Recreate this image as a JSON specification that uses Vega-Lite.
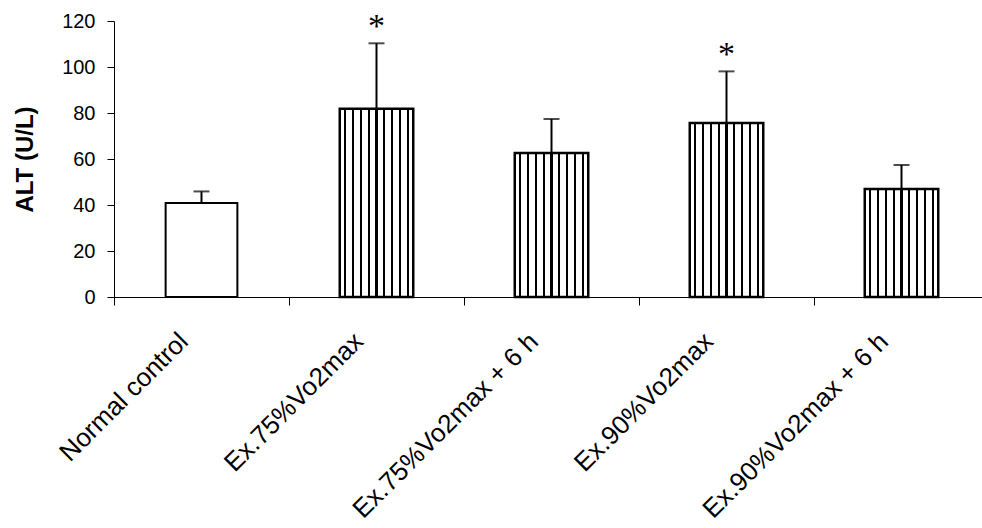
{
  "$schema": "https://vega.github.io/schema/vega-lite/v6.json",
  "width": 868,
  "height": 276,
  "autosize": {"type": "none"},
  "padding": {"left": 114, "top": 21, "right": 0, "bottom": 231},
  "background": "white",
  "config": {
    "view": {"stroke": null},
    "font": "Liberation Sans",
    "axis": {
      "domainColor": "black",
      "domainWidth": 1,
      "tickColor": "black",
      "labelColor": "black",
      "titleColor": "black",
      "labelFont": "Liberation Sans",
      "titleFont": "Liberation Sans",
      "grid": false
    }
  },
  "data": {
    "values": [
      {"group": "Normal control", "value": 40.9, "errhi": 45.9, "sig": ""},
      {"group": "Ex.75%Vo2max", "value": 81.9, "errhi": 110.3, "sig": "*"},
      {"group": "Ex.75%Vo2max + 6 h", "value": 62.6, "errhi": 77.4, "sig": ""},
      {"group": "Ex.90%Vo2max", "value": 75.7, "errhi": 98.1, "sig": "*"},
      {"group": "Ex.90%Vo2max + 6 h", "value": 47.0, "errhi": 57.4, "sig": ""}
    ]
  },
  "encoding": {
    "x": {
      "field": "group",
      "type": "nominal",
      "sort": null,
      "scale": {"paddingInner": 0, "paddingOuter": 0, "range": [0, 875]},
      "axis": {
        "title": null,
        "tickBand": "extent",
        "tickSize": 8,
        "labelAngle": -45,
        "labelAlign": "right",
        "labelBaseline": "middle",
        "labelFontSize": 26,
        "labelPadding": 32,
        "labelOffset": -18,
        "labelLimit": 400
      }
    },
    "y": {
      "type": "quantitative",
      "scale": {"domain": [0, 120], "nice": false, "zero": true},
      "axis": {
        "title": "ALT (U/L)",
        "values": [0, 20, 40, 60, 80, 100, 120],
        "tickSize": 7,
        "labelPadding": 12,
        "labelFontSize": 20,
        "titleFontSize": 24,
        "titleFontWeight": "bold",
        "titleX": -89,
        "titleY": 138,
        "titleAlign": "center",
        "titleBaseline": "middle",
        "titleAngle": -90
      }
    }
  },
  "layer": [
    {
      "transform": [{"filter": "datum.group === 'Normal control'"}],
      "mark": {"type": "bar", "width": {"band": 0.41}, "fill": "white", "stroke": "black", "strokeWidth": 2},
      "encoding": {"y": {"field": "value"}}
    },
    {
      "transform": [{"filter": "datum.group !== 'Normal control'"}],
      "mark": {
        "type": "bar",
        "width": {"band": 0.42},
        "stroke": "black",
        "strokeWidth": 2.5,
        "fill": {
          "gradient": "linear",
          "x1": 0, "x2": 1, "y1": 0, "y2": 0,
          "stops": [
            {"offset": 0, "color": "white"},
            {"offset": 0.054, "color": "white"}, {"offset": 0.054, "color": "black"}, {"offset": 0.082, "color": "black"}, {"offset": 0.082, "color": "white"},
            {"offset": 0.162, "color": "white"}, {"offset": 0.162, "color": "black"}, {"offset": 0.190, "color": "black"}, {"offset": 0.190, "color": "white"},
            {"offset": 0.270, "color": "white"}, {"offset": 0.270, "color": "black"}, {"offset": 0.298, "color": "black"}, {"offset": 0.298, "color": "white"},
            {"offset": 0.378, "color": "white"}, {"offset": 0.378, "color": "black"}, {"offset": 0.406, "color": "black"}, {"offset": 0.406, "color": "white"},
            {"offset": 0.486, "color": "white"}, {"offset": 0.486, "color": "black"}, {"offset": 0.514, "color": "black"}, {"offset": 0.514, "color": "white"},
            {"offset": 0.594, "color": "white"}, {"offset": 0.594, "color": "black"}, {"offset": 0.622, "color": "black"}, {"offset": 0.622, "color": "white"},
            {"offset": 0.702, "color": "white"}, {"offset": 0.702, "color": "black"}, {"offset": 0.730, "color": "black"}, {"offset": 0.730, "color": "white"},
            {"offset": 0.810, "color": "white"}, {"offset": 0.810, "color": "black"}, {"offset": 0.838, "color": "black"}, {"offset": 0.838, "color": "white"},
            {"offset": 0.918, "color": "white"}, {"offset": 0.918, "color": "black"}, {"offset": 0.946, "color": "black"}, {"offset": 0.946, "color": "white"},
            {"offset": 1, "color": "white"}
          ]
        }
      },
      "encoding": {"y": {"field": "value"}}
    },
    {
      "mark": {"type": "rule", "color": "black", "strokeWidth": 2},
      "encoding": {"y": {"field": "value"}, "y2": {"field": "errhi"}}
    },
    {
      "mark": {"type": "tick", "color": "black", "size": 16, "thickness": 2},
      "encoding": {"y": {"field": "errhi"}}
    },
    {
      "transform": [{"filter": "datum.sig !== ''"}],
      "mark": {"type": "text", "font": "Liberation Serif", "fontSize": 34, "baseline": "middle", "dy": -16, "color": "black"},
      "encoding": {"y": {"field": "errhi"}, "text": {"field": "sig"}}
    }
  ]
}
